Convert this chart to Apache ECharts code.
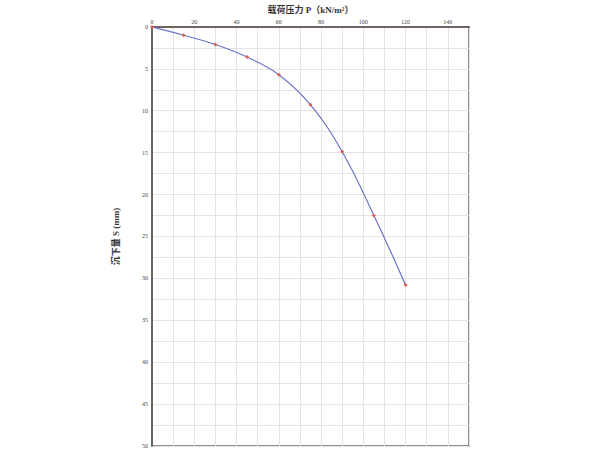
<!DOCTYPE html>
<html>
<head>
<meta charset="utf-8">
<script src="https://cdn.jsdelivr.net/npm/echarts@6/dist/echarts.min.js"></script>
<style>
  html, body { margin: 0; padding: 0; background: #fff; }
  #chart { width: 600px; height: 450px; }
</style>
</head>
<body>
<div id="chart"></div>
<script>
// 载荷 P (kN/m²) 与 沉下量 S (mm)
var loadP = [0, 15, 30, 45, 60, 75, 90, 105, 120];
var settleS = [0, 1.0, 2.1, 3.6, 5.7, 9.3, 14.9, 22.5, 30.8];
var xLabelEvery = 20;
var yLabelEvery = 5;

var axisColor = '#6e6460';
var gridColor = '#e4e2e2';
var serif = '"Liberation Serif", "DejaVu Serif", "Noto Sans CJK SC", serif';

var pts = loadP.map(function (p, i) { return [p, settleS[i]]; });

var myChart = echarts.init(document.getElementById('chart'), null, { renderer: 'svg' });
myChart.setOption({
  animation: false,
  grid: {
    left: 152, top: 23, right: 131, bottom: 4,
    show: true, borderColor: axisColor, borderWidth: 1.5
  },
  xAxis: {
    type: 'value', position: 'top', min: 0, max: 150, interval: 10,
    name: '载荷压力 P（kN/m²）', nameLocation: 'middle', nameGap: 12,
    nameTextStyle: { fontFamily: serif, fontSize: 9, color: '#333', fontWeight: 'bold' },
    axisLine: { lineStyle: { color: axisColor, width: 2 } },
    axisTick: { show: false },
    axisLabel: {
      fontFamily: serif, fontSize: 6, color: '#444', margin: 2,
      formatter: function (v) { return (v % xLabelEvery === 0 && v < 150) ? v : ''; }
    },
    splitLine: { lineStyle: { color: gridColor, width: 1 } }
  },
  yAxis: {
    type: 'value', inverse: true, min: 0, max: 50, interval: 2.5,
    name: '沉下量 S (mm)', nameLocation: 'middle', nameGap: 32, nameRotate: 90,
    nameTextStyle: { fontFamily: serif, fontSize: 9, color: '#333', fontWeight: 'bold' },
    axisLine: { lineStyle: { color: axisColor, width: 2 } },
    axisTick: { show: false },
    axisLabel: {
      fontFamily: serif, fontSize: 6, color: '#444', margin: 4,
      formatter: function (v) { return v % yLabelEvery === 0 ? v : ''; }
    },
    splitLine: { lineStyle: { color: gridColor, width: 1 } }
  },
  series: [{
    type: 'line',
    data: pts,
    smooth: 0.4,
    lineStyle: { color: '#6a72cc', width: 1.2 },
    symbol: 'diamond',
    symbolSize: 4,
    itemStyle: { color: '#e0604a' }
  }]
});
</script>
</body>
</html>
